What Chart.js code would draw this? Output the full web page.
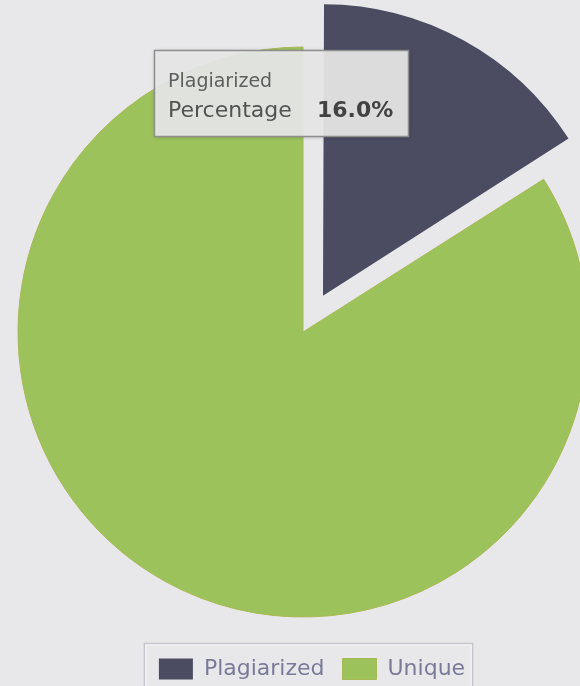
<!DOCTYPE html>
<html>
<head>
<meta charset="utf-8">
<script src="https://cdn.jsdelivr.net/npm/chart.js@4.4.1/dist/chart.umd.min.js"></script>
<style>
  html, body { margin: 0; padding: 0; background: #e8e8eb; overflow: hidden; width: 580px; height: 686px; }
  canvas { display: block; }
</style>
</head>
<body>
<canvas id="c" width="624" height="690"></canvas>
<script>
// ---- data ----
const categories = ['Plagiarized', 'Unique'];
const percentages = [16.0, 84.0];
const tooltipField = 'Percentage';
const tooltipIndex = 0;

// ---- plugins ----
const decorations = {
  id: 'decorations',
  afterLayout(chart) {
    // nudge the legend block slightly to the right, as in the reference
    chart.legend.left += 9;
    chart.legend.right += 9;
  },
  afterDraw(chart) {
    const ctx = chart.ctx;
    // legend frame
    const hb = chart.legend.legendHitBoxes;
    if (hb && hb.length) {
      const first = hb[0], last = hb[hb.length - 1];
      const l = first.left - 15, r = last.left + last.width + 7, t = first.top - 15;
      ctx.save();
      ctx.strokeStyle = '#c6c6cf';
      ctx.lineWidth = 1.5;
      ctx.strokeRect(l + 0.5, t + 0.5, r - l, 120);
      ctx.strokeStyle = 'rgba(255,255,255,0.7)';
      ctx.lineWidth = 1;
      ctx.strokeRect(l + 2, t + 2, r - l - 3, 120);
      ctx.restore();
    }
    // tooltip
    const x = 154, y = 50, w = 254, h = 86;
    ctx.save();
    ctx.shadowColor = 'rgba(0,0,0,0.25)';
    ctx.shadowBlur = 4;
    ctx.shadowOffsetX = 1;
    ctx.shadowOffsetY = 1;
    ctx.fillStyle = 'rgba(232,232,232,0.93)';
    ctx.fillRect(x, y, w, h);
    ctx.shadowColor = 'transparent';
    ctx.strokeStyle = '#8e8e8e';
    ctx.lineWidth = 1.5;
    ctx.strokeRect(x + 0.5, y + 0.5, w, h);
    ctx.textBaseline = 'alphabetic';
    ctx.fillStyle = '#5e5e5e';
    ctx.font = '19px "DejaVu Sans"';
    ctx.fillText(categories[tooltipIndex], x + 14, y + 37);
    ctx.fillStyle = '#525252';
    ctx.font = '22px "DejaVu Sans"';
    ctx.fillText(tooltipField, x + 14, y + 67);
    ctx.fillStyle = '#424242';
    ctx.font = 'bold 22px "DejaVu Sans"';
    ctx.fillText(percentages[tooltipIndex].toFixed(1) + '%', x + 163, y + 67);
    ctx.restore();
  }
};

new Chart(document.getElementById('c'), {
  type: 'pie',
  data: {
    labels: categories,
    datasets: [{
      data: percentages,
      backgroundColor: ['#4b4b61', '#9cc25c'],
      borderColor: ['#4b4b61', '#a9b852'],
      borderWidth: [0, 1],
      offset: [166, 0],
      hoverOffset: 0,
      clip: false
    }]
  },
  options: {
    responsive: false,
    animation: false,
    radius: 285,
    layout: { padding: { top: 24, left: 0, right: 18, bottom: 0 } },
    plugins: {
      legend: {
        position: 'bottom',
        labels: {
          color: '#7a7a98',
          font: { family: 'DejaVu Sans', size: 22 },
          boxWidth: 34,
          boxHeight: 21,
          padding: 18
        }
      },
      tooltip: { enabled: false }
    }
  },
  plugins: [decorations]
});
</script>
</body>
</html>
